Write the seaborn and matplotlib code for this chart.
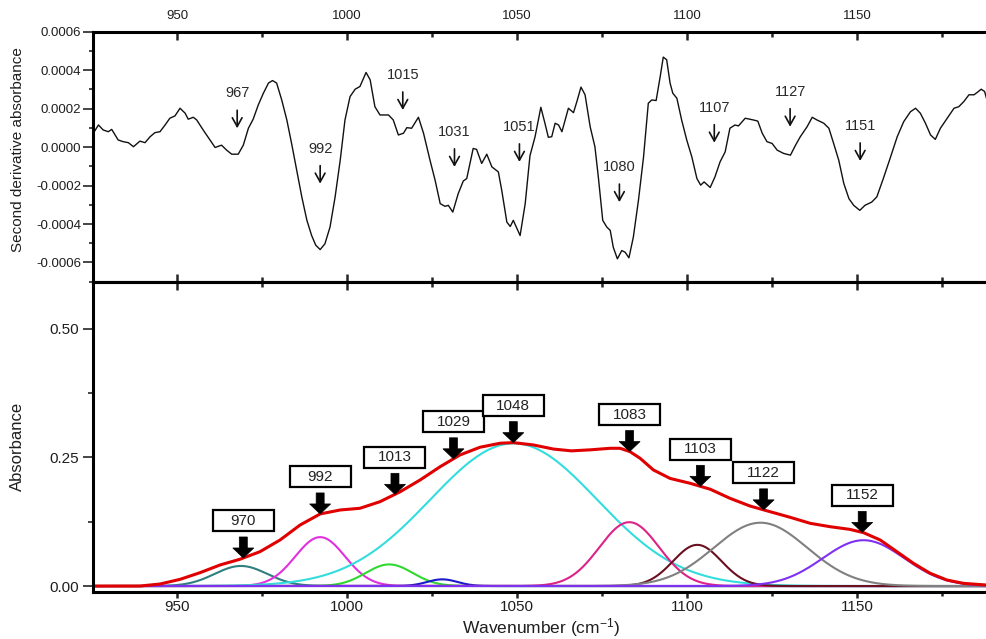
import numpy as np
import pandas as pd
import matplotlib
matplotlib.use("Agg")
import matplotlib.pyplot as plt
import matplotlib.transforms as mtransforms
from matplotlib.patches import Rectangle, Polygon
from matplotlib.ticker import MultipleLocator
import seaborn as sns

# ---------------- data: second derivative spectrum (values in 1e-4 units) -------------
deriv_wn = [925.4, 926.9, 928.3, 929.8, 930.8, 932.7, 934.2, 935.7, 937.2, 939.1, 940.6, 942.1,
            943.5, 945.0, 946.5, 947.9, 949.4, 950.9, 952.4, 953.3, 954.8, 955.8, 957.7, 959.7,
            961.2, 963.1, 964.6, 966.1, 968.0, 969.5, 971.0, 972.4, 973.9, 975.4, 976.9, 978.1,
            979.3, 980.8, 982.3, 983.7, 985.2, 986.7, 988.2, 989.6, 990.8, 992.1, 993.5, 995.0,
            996.5, 998.0, 999.4, 1000.9, 1002.4, 1003.8, 1005.6, 1006.8, 1008.2, 1009.7, 1012.2,
            1013.6, 1015.1, 1016.6, 1017.6, 1019.0, 1021.0, 1022.5, 1024.4, 1025.9, 1027.4, 1028.8,
            1029.8, 1031.1, 1032.7, 1034.2, 1035.2, 1037.1, 1038.1, 1039.6, 1041.1, 1042.6, 1044.5,
            1045.5, 1047.0, 1048.0, 1048.9, 1050.9, 1052.4, 1053.8, 1055.3, 1057.0, 1058.2, 1059.2,
            1060.2, 1061.2, 1062.2, 1063.2, 1065.1, 1066.6, 1067.6, 1068.8, 1070.0, 1071.5, 1072.9,
            1073.9, 1075.2, 1076.4, 1077.4, 1078.3, 1079.5, 1080.8, 1081.8, 1082.9, 1084.2, 1085.7,
            1087.2, 1088.6, 1089.6, 1090.9, 1092.1, 1093.0, 1094.0, 1095.0, 1095.8, 1097.0, 1098.4,
            1099.9, 1101.4, 1102.9, 1104.0, 1105.0, 1106.8, 1108.2, 1109.7, 1111.2, 1112.6, 1114.1,
            1115.1, 1117.1, 1119.5, 1120.8, 1122.1, 1123.5, 1125.0, 1126.5, 1128.4, 1130.4, 1131.9,
            1133.3, 1135.3, 1136.8, 1138.2, 1140.2, 1141.7, 1143.1, 1144.6, 1146.1, 1147.6, 1149.0,
            1150.8, 1152.3, 1154.3, 1155.8, 1157.7, 1159.7, 1161.8, 1163.7, 1165.7, 1167.2, 1168.6,
            1170.1, 1171.6, 1173.0, 1174.5, 1176.5, 1178.5, 1179.9, 1181.4, 1182.9, 1184.4, 1185.3,
            1186.5, 1187.5, 1188.3]
deriv_e4 = [0.72, 1.15, 0.89, 0.80, 0.92, 0.37, 0.28, 0.23, 0.02, 0.31, 0.23, 0.54,
            0.75, 0.80, 1.15, 1.50, 1.62, 2.02, 1.76, 1.45, 1.55, 1.41, 0.89, 0.37,
            -0.02, 0.10, -0.16, -0.37, -0.37, 0.10, 0.98, 1.45, 2.19, 2.80, 3.33, 3.46,
            3.33, 2.45, 1.41, 0.19, -1.20, -2.59, -3.81, -4.60, -5.10, -5.33, -5.03, -4.16,
            -2.59, -0.68, 1.41, 2.63, 3.01, 3.15, 3.88, 3.50, 2.10, 1.67, 1.67,
            1.41, 0.63, 0.72, 1.01, 0.98, 1.55, 0.72, -0.68, -1.72, -2.94, -3.08,
            -3.03, -3.38, -2.42, -1.76, -1.64, -0.07, -0.12, -0.85, -0.37, -1.03, -1.29,
            -2.25, -3.90, -4.13, -3.81, -4.60, -2.94, -0.45, 0.54, 2.07, 1.24, 0.51,
            0.54, 1.24, 1.15, 0.80, 2.02, 1.79, 2.37, 3.12, 2.72, 1.06, 0.02,
            -1.55, -3.81, -4.16, -4.33, -5.21, -5.81, -5.38, -5.47, -5.76, -4.68, -2.77,
            -0.51, 2.28, 2.45, 2.42, 3.67, 4.68, 4.54, 3.33, 2.80, 2.54, 1.41,
            0.37, -0.51, -1.64, -1.98, -1.81, -2.10, -1.55, -0.77, -0.25, 0.98, 1.15,
            1.10, 1.50, 1.41, 1.35, 0.72, 0.28, 0.19, -0.16, -0.33, -0.42, 0.10,
            0.54, 1.06, 1.55, 1.41, 1.24, 0.98, 0.19, -0.68, -1.90, -2.68, -3.03,
            -3.29, -3.03, -2.86, -2.59, -1.64, -0.59, 0.54, 1.32, 1.84, 2.02, 1.76,
            1.24, 0.63, 0.40, 0.98, 1.50, 2.02, 2.10, 2.37, 2.72, 2.72, 2.84,
            3.01, 2.89, 2.37]

# second-derivative peak annotations
d2_labels = ["967", "992", "1015", "1031", "1051", "1080", "1107", "1127", "1151"]
d2_arrow_x = [967.7, 992.1, 1016.4, 1031.6, 1050.7, 1080.1, 1108.0, 1130.3, 1150.9]
d2_arrow_tip_e4 = [0.98, -1.90, 1.93, -1.03, -0.77, -2.86, 0.23, 1.06, -0.72]

# ---------------- data: curve-fitted absorbance bands ----------------
band_labels = ["970", "992", "1013", "1029", "1048", "1083", "1103", "1122", "1152"]
band_center = [968.8, 992.1, 1012.4, 1028.0, 1049.0, 1083.0, 1103.0, 1121.6, 1151.9]
band_height = [0.039, 0.095, 0.042, 0.013, 0.277, 0.124, 0.080, 0.123, 0.089]
band_sigma = [7.7, 7.3, 6.9, 4.5, 24.5, 8.8, 7.1, 13.7, 12.0]
band_colors = ["#2f7f7f", "#e030e0", "#30d830", "#1a1acc", "#33dddd",
               "#dd2288", "#6a1020", "#808080", "#8030f0"]
band_arrow_x = [969.5, 992.1, 1014.1, 1031.3, 1048.9, 1083.1, 1103.9, 1122.5, 1151.5]

# measured absorbance envelope (red)
env_wn = [925.4, 939.1, 945.0, 950.9, 956.8, 962.7, 968.5, 974.4, 980.3, 986.2, 992.1,
          998.0, 1003.8, 1009.7, 1015.6, 1021.5, 1027.4, 1033.2, 1039.1, 1045.0, 1048.9,
          1054.8, 1060.7, 1066.0, 1071.5, 1077.4, 1080.3, 1083.2, 1086.2, 1090.1, 1095.0,
          1100.9, 1106.8, 1112.6, 1118.5, 1124.4, 1130.3, 1136.2, 1142.1, 1147.9, 1151.9,
          1156.8, 1161.7, 1166.6, 1171.5, 1176.4, 1181.3, 1188.2]
env_abs = [0.0, 0.0, 0.0039, 0.013, 0.026, 0.041, 0.052, 0.0667, 0.0894, 0.1185, 0.140,
           0.1477, 0.151, 0.1638, 0.183, 0.206, 0.2318, 0.2545, 0.2695, 0.2773, 0.2785,
           0.274, 0.266, 0.2625, 0.2645, 0.2675, 0.2675, 0.261, 0.248, 0.2254, 0.209,
           0.1995, 0.188, 0.1704, 0.1554, 0.1444, 0.1335, 0.1218, 0.1152, 0.110, 0.1036,
           0.0894, 0.0667, 0.044, 0.0247, 0.0117, 0.0052, 0.0019]

# ticks
x_major = [950, 1000, 1050, 1100, 1150]
top_yticks = [-0.0006, -0.0004, -0.0002, 0.0, 0.0002, 0.0004, 0.0006]
top_ytick_labels = ["-0.0006", "-0.0004", "-0.0002", "0.0000", "0.0002", "0.0004", "0.0006"]
bot_yticks = [0.0, 0.25, 0.50]
bot_ytick_labels = ["0.00", "0.25", "0.50"]

# ---------------- style ----------------
sns.set_theme(style="ticks")
plt.rcParams["font.family"] = ["Liberation Sans", "DejaVu Sans"]
plt.rcParams["axes.unicode_minus"] = False
plt.rcParams["mathtext.fontset"] = "custom"
plt.rcParams["mathtext.rm"] = "Liberation Sans"
plt.rcParams["mathtext.it"] = "Liberation Sans:italic"
TXT = "#1e1e1e"

W, H = 987, 639
fig = plt.figure(figsize=(W / 100, H / 100), dpi=100)


def rect(l, t, r, b):
    return [l / W, 1 - b / H, (r - l) / W, (b - t) / H]


ax1 = fig.add_axes(rect(93, 31.7, 987, 281.7))
ax2 = fig.add_axes(rect(93, 281.7, 987, 591.7))
XMIN, XMAX = 925.3, 1188.2
SPW = 2.2

# ---------------- top panel ----------------
df_top = pd.DataFrame({"wn": deriv_wn, "d2": np.array(deriv_e4) * 1e-4})
sns.lineplot(data=df_top, x="wn", y="d2", ax=ax1, color="#111111", lw=1.0, sort=False)
ax1.set_xlim(XMIN, XMAX)
ax1.set_ylim(-0.0007, 0.0006)
ax1.set_xticks(x_major)
ax1.xaxis.set_minor_locator(MultipleLocator(25))
ax1.tick_params(axis="x", which="both", direction="in", top=True, bottom=True,
                labeltop=True, labelbottom=False, labelsize=9.5, labelcolor=TXT, pad=7)
ax1.tick_params(axis="x", which="major", length=6, width=1.8)
ax1.tick_params(axis="x", which="minor", length=3.5, width=1.8)
ax1.set_yticks(top_yticks, labels=top_ytick_labels)
ax1.yaxis.set_minor_locator(MultipleLocator(0.0001))
ax1.tick_params(axis="y", which="both", direction="out", right=False, labelsize=9.5,
                labelcolor=TXT, pad=1.5)
ax1.tick_params(axis="y", which="major", length=7, width=1.2)
ax1.tick_params(axis="y", which="minor", length=3, width=1.2)
ax1.set_xlabel("")
ax1.set_ylabel("Second derivative absorbance", fontsize=11, color=TXT)
ax1.yaxis.set_label_coords(-0.084, 0.527)
ax1.yaxis.label.set_va("center")
for s in ["top", "bottom", "left"]:
    ax1.spines[s].set_linewidth(SPW)
    ax1.spines[s].set_color("black")
ax1.spines["right"].set_visible(False)

for lab, x, tip in zip(d2_labels, d2_arrow_x, d2_arrow_tip_e4):
    yt = tip * 1e-4
    ax1.annotate("", xy=(x, yt), xytext=(0, 18), textcoords="offset pixels",
                 arrowprops=dict(arrowstyle="->,head_length=0.45,head_width=0.25",
                                 lw=1.2, color="#111111", shrinkA=0, shrinkB=0,
                                 mutation_scale=14))
    ax1.annotate(lab, xy=(x, yt), xytext=(0, 35), textcoords="offset pixels",
                 ha="center", va="center", fontsize=10.5, color="#2a2a2a")

# ---------------- bottom panel ----------------
grid = np.linspace(XMIN, XMAX, 800)
for c, h, s, col in zip(band_center, band_height, band_sigma, band_colors):
    comp = h * np.exp(-0.5 * ((grid - c) / s) ** 2)
    sns.lineplot(x=grid, y=comp, ax=ax2, color=col, lw=1.5)
sns.lineplot(x=env_wn, y=env_abs, ax=ax2, color="#e00000", lw=2.2, sort=False)

ax2.set_xlim(XMIN, XMAX)
ax2.set_ylim(-0.011, 0.591)
ax2.set_xticks(x_major)
ax2.xaxis.set_minor_locator(MultipleLocator(25))
ax2.tick_params(axis="x", which="both", direction="out", top=False, bottom=True,
                labelsize=11, labelcolor=TXT, pad=2)
ax2.tick_params(axis="x", which="major", length=4, width=1.8)
ax2.tick_params(axis="x", which="minor", length=3, width=1.8)
ax2.set_yticks(bot_yticks, labels=bot_ytick_labels)
ax2.yaxis.set_minor_locator(MultipleLocator(0.125))
ax2.tick_params(axis="y", which="both", direction="out", right=False, labelsize=11,
                labelcolor=TXT, pad=3)
ax2.tick_params(axis="y", which="major", length=7, width=1.2)
ax2.tick_params(axis="y", which="minor", length=3.5, width=1.2)
for s in ["top", "bottom", "left"]:
    ax2.spines[s].set_linewidth(SPW)
    ax2.spines[s].set_color("black")
ax2.spines["right"].set_visible(False)

sec = ax2.secondary_xaxis("top")
sec.set_xticks(x_major)
sec.xaxis.set_minor_locator(MultipleLocator(25))
sec.tick_params(axis="x", which="both", direction="in", labeltop=False, width=1.8)
sec.tick_params(axis="x", which="major", length=6)
sec.tick_params(axis="x", which="minor", length=3.5)
sec.spines["top"].set_linewidth(SPW)

ax2.set_ylabel("Absorbance", fontsize=12, color=TXT)
ax2.yaxis.set_label_coords(-0.084, 0.468)
ax2.yaxis.label.set_va("center")
ax2.set_xlabel("Wavenumber (cm$^{-1}$)", fontsize=12.5, color=TXT)
ax2.xaxis.set_label_coords(0.501, -0.117)
ax2.xaxis.label.set_va("center")

# labelled arrows for fitted bands
for lab, x in zip(band_labels, band_arrow_x):
    tip = float(np.interp(x, env_wn, env_abs))
    tr = mtransforms.Affine2D() + mtransforms.ScaledTranslation(x, tip, ax2.transData)
    arrow = Polygon([(0, 0), (-10.5, 10), (-4, 10), (-4, 21), (4, 21), (4, 10), (10.5, 10)],
                    closed=True, facecolor="black", edgecolor="black", lw=0.5,
                    transform=tr, zorder=6)
    ax2.add_patch(arrow)
    box = Rectangle((-30.5, 26.5), 61, 21, facecolor="white", edgecolor="black",
                    lw=1.6, transform=tr, zorder=6)
    ax2.add_patch(box)
    ax2.annotate(lab, xy=(x, tip), xytext=(0, 37), textcoords="offset pixels",
                 ha="center", va="center", fontsize=11, color="#222222", zorder=7)

fig.savefig("out.png", dpi=100, facecolor="white")
